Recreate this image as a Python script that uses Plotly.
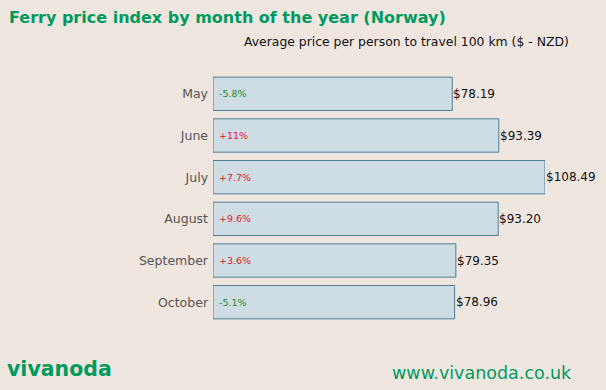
import plotly.graph_objects as go

months = ["May", "June", "July", "August", "September", "October"]
prices = [78.19, 93.39, 108.49, 93.20, 79.35, 78.96]
changes = ["-5.8%", "+11%", "+7.7%", "+9.6%", "+3.6%", "-5.1%"]

FONT = "DejaVu Sans"
GREEN = "#009a5e"

W, H = 606, 390
L, R, T, B = 213, 61, 73, 67
pw, ph = W - L - R, H - T - B


def px(x):
    return (x - L) / pw


def py(y):
    return (H - B - y) / ph


fig = go.Figure()
fig.add_trace(go.Bar(
    x=prices, y=months, orientation="h",
    marker=dict(color="#cddde3", line=dict(color="#4f7f98", width=1)),
    width=0.8,
    hoverinfo="skip",
))

for m, p, c in zip(months, prices, changes):
    fig.add_annotation(
        x=0, y=m, xref="x", yref="y", text=c, showarrow=False,
        xanchor="left", xshift=4,
        font=dict(family=FONT, size=9.5, color="#2a8a2a" if c.startswith("-") else "#e0202a"),
    )
    fig.add_annotation(
        x=p, y=m, xref="x", yref="y", text=f"${p:.2f}", showarrow=False,
        xanchor="left", xshift=-1,
        font=dict(family=FONT, size=12, color="#111111"),
    )

fig.add_annotation(x=px(7), y=py(17), xref="paper", yref="paper", xanchor="left", yanchor="middle",
                   text="<b>Ferry price index by month of the year (Norway)</b>", showarrow=False,
                   font=dict(family=FONT, size=16, color=GREEN))
fig.add_annotation(x=px(571), y=py(41), xref="paper", yref="paper", xanchor="right", yanchor="middle",
                   text="Average price per person to travel 100 km ($ - NZD)", showarrow=False,
                   font=dict(family=FONT, size=12.4, color="#111111"))
fig.add_annotation(x=px(5), y=py(369), xref="paper", yref="paper", xanchor="left", yanchor="middle",
                   text="<b>vivanoda</b>", showarrow=False,
                   font=dict(family=FONT, size=20.5, color=GREEN))
fig.add_annotation(x=px(574), y=py(373), xref="paper", yref="paper", xanchor="right", yanchor="middle",
                   text="www.vivanoda.co.uk", showarrow=False,
                   font=dict(family=FONT, size=17.5, color=GREEN))

fig.update_layout(
    width=W, height=H,
    margin=dict(l=L, r=R, t=T, b=B, pad=0),
    paper_bgcolor="#efe6e0", plot_bgcolor="#efe6e0",
    showlegend=False,
    xaxis=dict(range=[0, 108.49], visible=False, fixedrange=True),
    yaxis=dict(autorange="reversed", showgrid=False, zeroline=False, showline=False,
               ticks="", tickfont=dict(family=FONT, size=12.5, color="#555555"), ticksuffix=" "),
    bargap=0.2,
    font=dict(family=FONT),
)
fig.write_html("out.html", config={"displayModeBar": False},
               post_script="document.body.style.margin='0';document.body.style.padding='0';"
                           "document.body.style.overflow='hidden';")
